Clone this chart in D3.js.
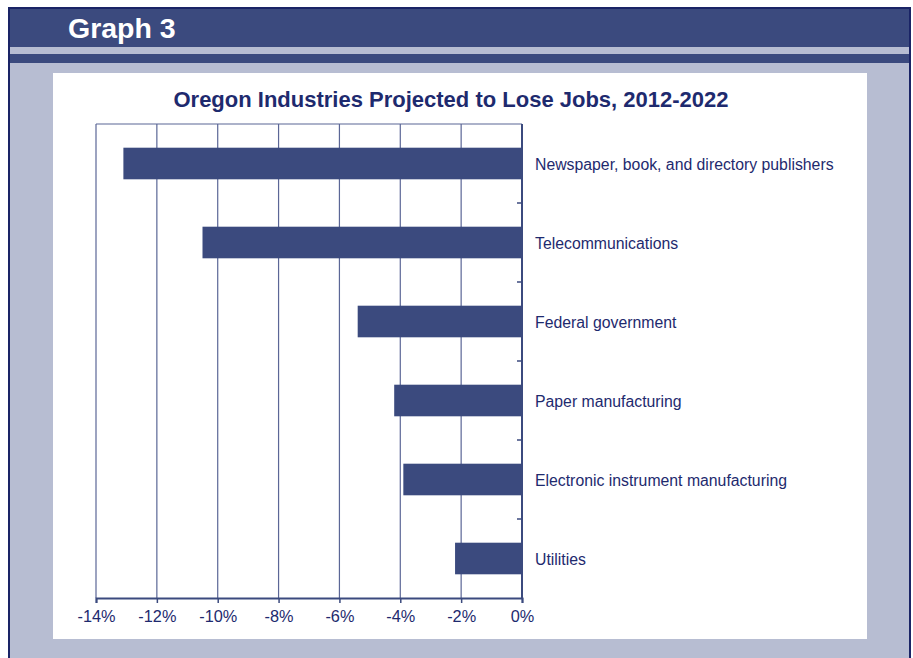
<!DOCTYPE html>
<html>
<head>
<meta charset="utf-8">
<script src="https://cdn.jsdelivr.net/npm/d3@7/dist/d3.min.js"></script>
<style>
  html, body { margin: 0; padding: 0; background: #ffffff; }
  svg { display: block; }
</style>
</head>
<body>
<script>
// Projected employment change by industry, 2012-2022 (percent)
const industries = [
  "Newspaper, book, and directory publishers",
  "Telecommunications",
  "Federal government",
  "Paper manufacturing",
  "Electronic instrument manufacturing",
  "Utilities"
];
const changePct = [-13.1, -10.5, -5.4, -4.2, -3.9, -2.2];
const tickValues = [-14, -12, -10, -8, -6, -4, -2, 0];
const tickLabels = ["-14%", "-12%", "-10%", "-8%", "-6%", "-4%", "-2%", "0%"];

(function draw() {
  const W = 913, H = 658;
  const navy = "#3b4a7e";
  const textNavy = "#1e2a6e";
  const frame = "#1a2466";
  const paleBlue = "#b7bdd2";
  const font = "Liberation Sans, Arial, sans-serif";

  const svg = d3.select("body").append("svg")
    .attr("width", W).attr("height", H);

  // Page frame and header bands
  svg.append("rect").attr("x", 0).attr("y", 0).attr("width", W).attr("height", H).attr("fill", "#ffffff");
  svg.append("rect").attr("x", 8).attr("y", 7).attr("width", 903).attr("height", H).attr("fill", frame);
  svg.append("rect").attr("x", 10).attr("y", 9).attr("width", 899).attr("height", H).attr("fill", paleBlue);
  svg.append("rect").attr("x", 10).attr("y", 9).attr("width", 899).attr("height", 38).attr("fill", navy);
  svg.append("rect").attr("x", 10).attr("y", 54).attr("width", 899).attr("height", 9).attr("fill", navy);

  svg.append("text")
    .attr("x", 68).attr("y", 38)
    .attr("font-family", font)
    .attr("font-weight", "bold").attr("font-size", 28.5)
    .attr("fill", "#ffffff")
    .text("Graph 3");

  // White chart panel
  svg.append("rect").attr("x", 53).attr("y", 73).attr("width", 814).attr("height", 566).attr("fill", "#ffffff");

  svg.append("text")
    .attr("x", 451).attr("y", 107)
    .attr("text-anchor", "middle")
    .attr("font-family", font)
    .attr("font-weight", "bold").attr("font-size", 22)
    .attr("fill", textNavy)
    .text("Oregon Industries Projected to Lose Jobs, 2012-2022");

  const plotLeft = 96, plotRight = 522, plotTop = 124, plotBottom = 598;

  const x = d3.scaleLinear().domain([-14, 0]).range([plotLeft, plotRight]);
  const y = d3.scaleBand().domain(industries).range([plotTop, plotBottom]).paddingInner(0.6).paddingOuter(0.3);
  const yb = d3.scaleBand().domain(industries).range([plotTop, plotBottom]);

  const g = svg.append("g");

  // Vertical gridlines
  g.selectAll("line.grid").data(tickValues).join("line")
    .attr("class", "grid")
    .attr("x1", d => x(d)).attr("x2", d => x(d))
    .attr("y1", plotTop).attr("y2", plotBottom)
    .attr("stroke", "#5b6696").attr("stroke-width", 1.2);

  // Top border of the plot
  g.append("line")
    .attr("x1", plotLeft).attr("x2", plotRight).attr("y1", plotTop).attr("y2", plotTop)
    .attr("stroke", "#5b6696").attr("stroke-width", 1.2);

  // Bars
  const rows = industries.map((name, i) => ({ name, value: changePct[i] }));
  g.selectAll("rect.bar").data(rows).join("rect")
    .attr("class", "bar")
    .attr("x", d => x(d.value))
    .attr("width", d => x(0) - x(d.value))
    .attr("y", d => y(d.name))
    .attr("height", y.bandwidth())
    .attr("fill", navy);

  // Bottom value axis
  const xAxis = d3.axisBottom(x).tickValues(tickValues)
    .tickFormat((d, i) => tickLabels[i]).tickSize(5).tickPadding(7);
  const xg = svg.append("g").attr("transform", `translate(0,${plotBottom})`).call(xAxis);
  xg.select(".domain").attr("stroke", navy).attr("stroke-width", 2);
  xg.selectAll(".tick line").attr("stroke", navy).attr("stroke-width", 1.5);
  xg.selectAll(".tick text")
    .attr("font-family", font)
    .attr("font-size", 16.3).attr("fill", textNavy);

  // Category axis at zero, labels to the right
  const boundaries = industries.slice(1).map(n => yb(n));
  svg.append("g").selectAll("line").data(boundaries).join("line")
    .attr("x1", x(0) - 5).attr("x2", x(0))
    .attr("y1", d => d).attr("y2", d => d)
    .attr("stroke", navy).attr("stroke-width", 1.5);
  svg.append("line")
    .attr("x1", x(0)).attr("x2", x(0)).attr("y1", plotTop).attr("y2", plotBottom + 1)
    .attr("stroke", navy).attr("stroke-width", 2);

  svg.append("g").selectAll("text").data(industries).join("text")
    .attr("x", x(0) + 13)
    .attr("y", d => yb(d) + yb.bandwidth() / 2 + 1)
    .attr("dy", "0.35em")
    .attr("font-family", font)
    .attr("font-size", 15.8).attr("fill", textNavy)
    .text(d => d);
})();
</script>
</body>
</html>
